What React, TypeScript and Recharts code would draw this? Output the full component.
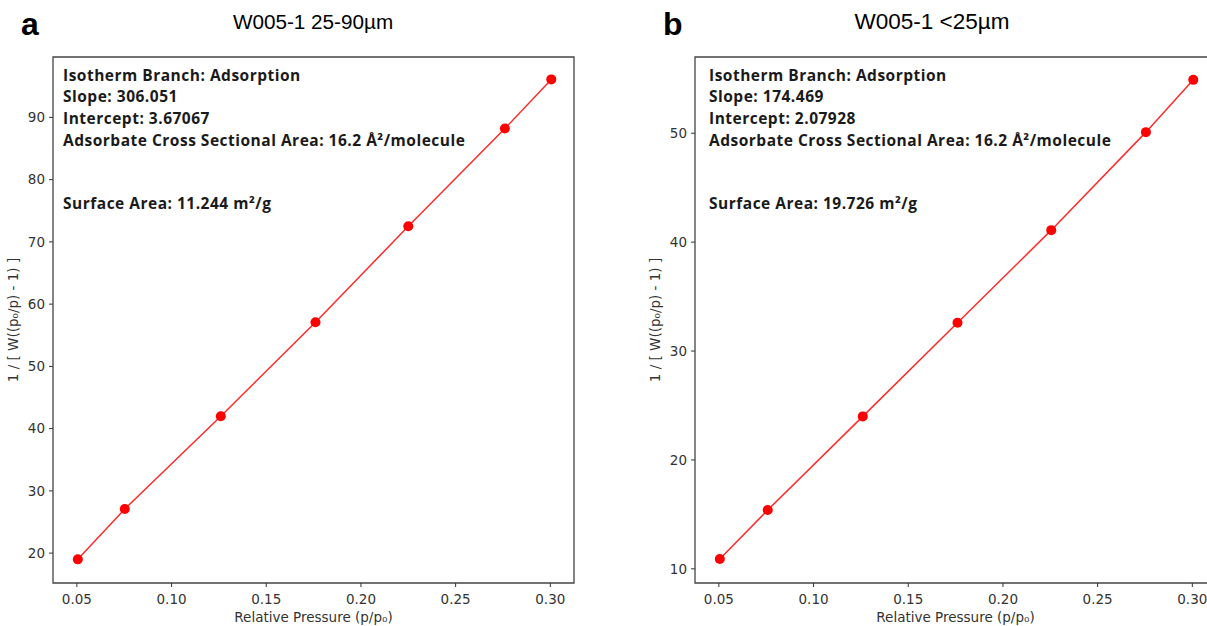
import React from "react";
import {
  LineChart,
  Line,
  XAxis,
  YAxis,
  ReferenceArea,
} from "recharts";

// relative pressure (p/p0) and BET transform 1/[W((p0/p)-1)]
const pressureA = [0.0505, 0.0753, 0.126, 0.176, 0.225, 0.276, 0.3005];
const betA = [19.0, 27.1, 42.0, 57.1, 72.5, 88.2, 96.1];
const pressureB = [0.0505, 0.0758, 0.126, 0.176, 0.2255, 0.2755, 0.3005];
const betB = [10.9, 15.4, 24.0, 32.6, 41.1, 50.1, 54.9];

const xTicks = [0.05, 0.1, 0.15, 0.2, 0.25, 0.3];
const yTicksA = [20, 30, 40, 50, 60, 70, 80, 90];
const yTicksB = [10, 20, 30, 40, 50];

const infoA = [
  "Isotherm Branch: Adsorption",
  "Slope: 306.051",
  "Intercept: 3.67067",
  "Adsorbate Cross Sectional Area: 16.2 Å²/molecule",
];
const infoB = [
  "Isotherm Branch: Adsorption",
  "Slope: 174.469",
  "Intercept: 2.07928",
  "Adsorbate Cross Sectional Area: 16.2 Å²/molecule",
];

const axisFont = { fontSize: 13.5, fill: "#333", fontFamily: "DejaVu Sans" };

interface PanelProps {
  letter: string;
  title: string;
  titleCenter: number;
  titleSize: number;
  xs: number[];
  ys: number[];
  yTicks: number[];
  yDomain: [number, number];
  info: string[];
  infoLeft: number;
  surface: string;
  left: number;
}

function Panel(props: PanelProps) {
  const { letter, title, titleCenter, titleSize, xs, ys, yTicks, yDomain, info, infoLeft, surface, left } = props;
  const data = xs.map((p, i) => ({ p, w: ys[i] }));
  const xDomain: [number, number] = [0.0374, 0.3125];
  const width = 600;
  const plotCenter = (53 + width - 26) / 2;

  return (
    <div style={{ position: "absolute", left, top: 0, width, height: 626 }}>
      <div
        style={{
          position: "absolute",
          left: 21,
          top: 4,
          fontFamily: "Liberation Sans",
          fontWeight: "bold",
          fontSize: 32,
          lineHeight: "40px",
        }}
      >
        {letter}
      </div>
      <div
        style={{
          position: "absolute",
          left: titleCenter - 150,
          width: 300,
          top: 8,
          textAlign: "center",
          fontFamily: "Liberation Sans",
          fontSize: titleSize,
          lineHeight: "28px",
        }}
      >
        {title}
      </div>
      <LineChart
        width={width}
        height={626}
        data={data}
        margin={{ top: 57, right: 26, bottom: 13, left: 13 }}
      >
        <XAxis
          type="number"
          dataKey="p"
          domain={xDomain}
          ticks={xTicks}
          allowDataOverflow
          axisLine={false}
          tickSize={4}
          tickMargin={7}
          tick={axisFont}
          tickLine={{ stroke: "#333" }}
          tickFormatter={(v: number) => v.toFixed(2)}
          height={30}
        />
        <YAxis
          type="number"
          dataKey="w"
          domain={yDomain}
          ticks={yTicks}
          allowDataOverflow
          axisLine={false}
          tickSize={4}
          tickMargin={4}
          tick={axisFont}
          tickLine={{ stroke: "#333" }}
          width={40}
        />
        <ReferenceArea
          x1={xDomain[0]}
          x2={xDomain[1]}
          y1={yDomain[0]}
          y2={yDomain[1]}
          fill="none"
          stroke="#444"
          strokeWidth={1.3}
          ifOverflow="visible"
        />
        <Line
          type="linear"
          dataKey="w"
          stroke="#ff2a2a"
          strokeWidth={1.5}
          dot={{ r: 5, fill: "#ff0000", stroke: "#ff0000", strokeWidth: 0 }}
          isAnimationActive={false}
        />
      </LineChart>
      <div
        style={{
          position: "absolute",
          left: infoLeft,
          top: 64.5,
          fontFamily: "Open Sans",
          fontWeight: 700,
          fontSize: 15.5,
          letterSpacing: 0.5,
          lineHeight: "21.7px",
          color: "#1a1a1a",
          whiteSpace: "nowrap",
        }}
      >
        {info.map((t) => (
          <div key={t}>{t}</div>
        ))}
        <div style={{ marginTop: 41.5 }}>{surface}</div>
      </div>
      <div
        style={{
          position: "absolute",
          left: plotCenter - 150,
          width: 300,
          top: 609,
          lineHeight: "16px",
          textAlign: "center",
          fontFamily: "DejaVu Sans",
          fontSize: 13.5,
          color: "#333",
        }}
      >
        Relative Pressure (p/p₀)
      </div>
      <div
        style={{
          position: "absolute",
          left: 12.5 - 150,
          top: 320 - 8,
          width: 300,
          height: 16,
          lineHeight: "16px",
          textAlign: "center",
          transform: "rotate(-90deg)",
          fontFamily: "DejaVu Sans",
          fontSize: 13.5,
          color: "#333",
        }}
      >
        1 / [ W((p₀/p) - 1) ]
      </div>
    </div>
  );
}

export default function App() {
  return (
    <div
      style={{
        position: "absolute",
        left: 0,
        top: 0,
        width: 1207,
        height: 626,
        overflow: "hidden",
        background: "#fff",
      }}
    >
      <Panel
        letter="a"
        title="W005-1 25-90µm"
        titleCenter={313}
        titleSize={20.7}
        xs={pressureA}
        ys={betA}
        yTicks={yTicksA}
        yDomain={[15.2, 99.7]}
        info={infoA}
        infoLeft={63}
        surface="Surface Area: 11.244 m²/g"
        left={0}
      />
      <Panel
        letter="b"
        title="W005-1 <25µm"
        titleCenter={290}
        titleSize={22.5}
        xs={pressureB}
        ys={betB}
        yTicks={yTicksB}
        yDomain={[8.7, 57.0]}
        info={infoB}
        infoLeft={67}
        surface="Surface Area: 19.726 m²/g"
        left={642}
      />
    </div>
  );
}
